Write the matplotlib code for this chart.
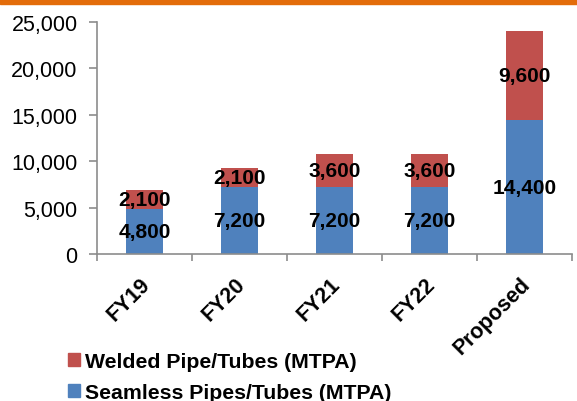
import matplotlib
matplotlib.use("Agg")
import matplotlib.pyplot as plt
import numpy as np
from matplotlib.patches import Patch, Rectangle
from matplotlib.transforms import ScaledTranslation

categories = ["FY19", "FY20", "FY21", "FY22", "Proposed"]
seamless = [4800, 7200, 7200, 7200, 14400]
welded = [2100, 2100, 3600, 3600, 9600]
yticks = [0, 5000, 10000, 15000, 20000, 25000]

plt.rcParams['font.family'] = ['Liberation Sans', 'DejaVu Sans']

blue = "#4F81BD"
red = "#C0504D"
gray = "#8C8C8C"

fig = plt.figure(figsize=(5.77, 4.02), dpi=100)
ax = fig.add_axes([97/577, 1-255/402, 475/577, 232/402])

x = np.arange(len(categories))
w = 0.39
ax.bar(x, seamless, width=w, color=blue, zorder=2)
ax.bar(x, welded, width=w, bottom=seamless, color=red, zorder=2)

for i in range(len(categories)):
    ax.text(x[i], seamless[i]/2, f"{seamless[i]:,}", ha='center', va='center',
            fontsize=15, fontweight='bold', color='black', zorder=3)
    ax.text(x[i], seamless[i] + welded[i]/2, f"{welded[i]:,}", ha='center', va='center',
            fontsize=15, fontweight='bold', color='black', zorder=3)

ax.set_xlim(-0.5, len(categories)-0.5)
ax.set_ylim(0, 25000)
ax.set_yticks(yticks)
ax.set_yticklabels([f"{v:,}" for v in yticks], fontsize=15.5)
ax.set_xticks(x)
ax.set_xticklabels([])
offset = ScaledTranslation(-5/100, -19/100, fig.dpi_scale_trans)
for i, c in enumerate(categories):
    ax.text(x[i], 0, c, transform=ax.get_xaxis_transform() + offset,
            rotation=45, ha='right', va='top', rotation_mode='anchor',
            fontsize=15.5, fontweight='bold', clip_on=False)
ax.set_xticks(np.arange(len(categories)+1)-0.5, minor=True)
ax.tick_params(axis='x', which='major', length=0)
ax.tick_params(axis='x', which='minor', length=5, width=1.2, color=gray)
ax.tick_params(axis='y', length=6, width=1.2, color=gray, pad=8)

for s in ['top', 'right']:
    ax.spines[s].set_visible(False)
for s in ['left', 'bottom']:
    ax.spines[s].set_color(gray)
    ax.spines[s].set_linewidth(1.2)

handles = [Patch(color=red, label="Welded Pipe/Tubes (MTPA)"),
           Patch(color=blue, label="Seamless Pipes/Tubes (MTPA)")]
fig.legend(handles=handles, loc='upper left', bbox_to_anchor=(68/577, 1-353/402),
           frameon=False, prop={'size': 15.3, 'weight': 'bold'},
           handlelength=0.55, handleheight=0.55, handletextpad=0.25, labelspacing=0.58,
           borderaxespad=0, borderpad=0)

fig.patches.append(Rectangle((0, 1-5/402), 1, 5/402, transform=fig.transFigure,
                             color="#E36C0A", zorder=5))

fig.savefig("out.png", dpi=100)
